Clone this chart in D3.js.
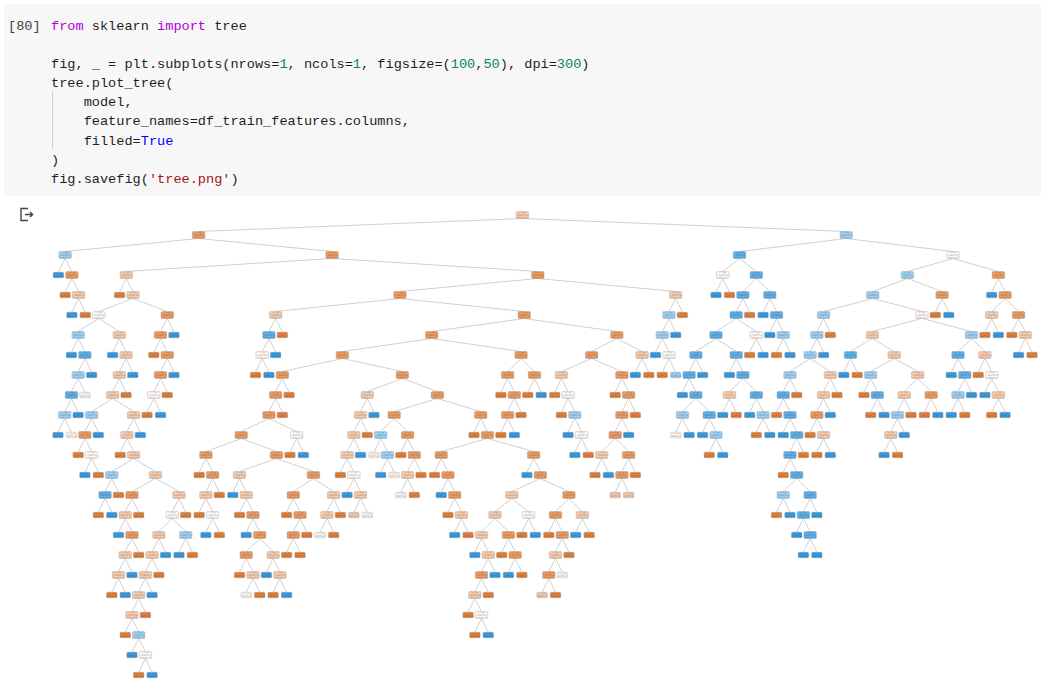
<!DOCTYPE html>
<html>
<head>
<meta charset="utf-8">
<script src="https://cdn.jsdelivr.net/npm/d3@7"></script>
<style>
  body { margin: 0; background: #fff; }
  svg text { white-space: pre; }
</style>
</head>
<body>
<div id="page"></div>
<script>
// code cell text, one entry per line: [line index, indent, [text, colour] pieces]
var codeLines = [
  [0, 0, [["from", "kw"], [" sklearn ", "tx"], ["import", "kw"], [" tree", "tx"]]],
  [2, 0, [["fig, _ = plt.subplots(nrows=", "tx"], ["1", "num"], [", ncols=", "tx"], ["1", "num"],
          [", figsize=(", "tx"], ["100", "num"], [",", "tx"], ["50", "num"], ["), dpi=", "tx"],
          ["300", "num"], [")", "tx"]]],
  [3, 0, [["tree.plot_tree(", "tx"]]],
  [4, 4, [["model,", "tx"]]],
  [5, 4, [["feature_names=df_train_features.columns,", "tx"]]],
  [6, 4, [["filled=", "tx"], ["True", "bool"]]],
  [7, 0, [[")", "tx"]]],
  [8, 0, [["fig.savefig(", "tx"], ["'tree.png'", "str"], [")", "tx"]]]
];
var codeColors = { kw: "#af00db", tx: "#1f1f1f", num: "#098658", bool: "#0000ff", str: "#a31515" };

// decision tree, node shade codes:
// O orange leaf, o orange, p pale orange, w near white, l light blue, b blue, B blue leaf
// written as code(left,right)
var t71 = "b(l(B,w),B)";
var t78a = "l(B,b(l(" + t71 + ",w),B))";
var t91 = "l(o(O,w(B,O)),B)";
var t112b = "l(b(O,B),O)";
var t132 = "o(p(B,o(p(p(O,B),B),O)),O)";
var t159 = "p(p(p(p(p(O,l(B,w(O,B))),O),B),O),B)";
var t179 = "p(w(" + t159 + ",l(B,O)),O)";
var t133c = "p(" + t112b + ",p(" + t132 + "," + t179 + "))";
var t112 = "p(" + t91 + ",p(p(O," + t133c + "),B))";
var t118a = "p(B,p(p(" + t112 + ",O),B))";
var t166 = "o(o(O,o(o(w(O,B),O),B)),B)";
var t126 = "p(O,p(w(" + t78a + "," + t118a + ")," + t166 + "))";

var t275 = "p(b(w(O,B),B),O)";
var t204 = "o(O,o(p(O,w(B,O)),O))";
var t239b = "p(B,p(O,o(B,o(o(O,p(w,O)),p(B,p(O,B))))))";
var t313 = "o(o(O,o(o(O,O),O)),p(p(w,O),O))";
var t239 = "o(" + t204 + ",o(" + t239b + "," + t313 + "))";
var t282 = "o(o(o(" + t239 + ",w(O,B)),O),O)";
var t367 = "p(p(p(p(O,w(B,p(p,w))),B),O),B)";
var t394 = "o(l(w,l(B,w)),o(O,o(p(w,O),O)))";
var t441 = "o(O,o(B,o(O,p(B,O))))";
var t481b = "p(B,p(o(p(O,w(O,B)),O),B))";
var t511 = "p(p(" + t481b + ",o(O,o(B,O))),w(O,B))";
var t568 = "o(o(O,o(p(o(p,O),w),O)),p(B,O))";
var t534 = "o(B,o(" + t511 + "," + t568 + "))";
var t437 = "o(" + t394 + ",o(O,o(" + t441 + "," + t534 + ")))";
var t342 = "o(" + t282 + ",o(" + t367 + "," + t437 + "))";
var t521 = "o(o(O,o(o(O,B),O)),o(O,B))";
var t562 = "p(O,w(O,l(B,w(B,O))))";
var t622 = "o(O,o(o(o(p(O,B),o(o(p,p),O)),B),O))";
var t617 = "o(o(" + t562 + "," + t622 + "),p(B,O))";
var t524 = "o(o(" + t342 + "," + t521 + ")," + t617 + ")";
var t675 = "p(l(l(B,w(O,l)),B),O)";
var t537 = "o(o(" + t275 + "," + t524 + ")," + t675 + ")";
var leftBranch = "o(l(B,o(O,p(B,O))),o(" + t126 + "," + t537 + "))";

var t696 = "b(b(B,b(l(w,B),b(B,l(O,B)))),B)";
var t736b = "b(B,b(p(B,O),b(B,l(O,B))))";
var t756 = "b(b(b(b(" + t696 + "," + t736b + "),w(O,B)),O),b(B,b(B,l(O,B))))";
var t790b = "b(O,b(l(O,B),b(b(B,b(B,B)),B)))";
var t790 = "l(b(O,b(B,b(" + t790b + ",O))),O)";
var t830 = "p(p(o(O,p(O,B)),B),O)";
var t918 = "p(p(l(p(B,O),B),O),o(O,B))";
var t872b = "p(b(B,O),p(l(O,b(O,B))," + t918 + "))";
var t971 = "l(b(B,b(l(B,O),B)),p(O,w(B,p(O,B))))";
var t872 = "l(l(l(l(" + t790 + "," + t830 + "),B),O),w(" + t872b + "," + t971 + "))";
var t999 = "o(B,o(p(O,B),o(O,p(B,O))))";
var rightBranch = "l(b(w(B,O)," + t756 + "),w(l(" + t872 + ",o(O,B))," + t999 + "))";

var treeSpec = "p(" + leftBranch + "," + rightBranch + ")";

// shade code -> class and fill strength
var shadeClass = { O: 0, o: 0, p: 0, w: 0, l: 1, b: 1, B: 1 };
var shadeAlpha = { O: 1, o: 0.8, p: 0.42, w: 0.07, l: 0.5, b: 0.82, B: 1 };
var classColors = ["#e58139", "#399de5"];

function parseTree(s) {
  var i = 0;
  function node() {
    var n = { c: s[i++] };
    if (s[i] === "(") {
      i++;
      var l = node(); i++; // skip comma
      var r = node(); i++; // skip ')'
      n.children = [l, r];
    }
    return n;
  }
  return node();
}

var width = 1044, height = 699;
var svg = d3.select("#page").append("svg")
  .attr("width", width)
  .attr("height", height);

// ---- code cell ----
svg.append("rect")
  .attr("x", 4).attr("y", 4)
  .attr("width", 1037).attr("height", 192)
  .attr("fill", "#f7f7f7");

var mono = "'Liberation Mono', 'DejaVu Sans Mono', monospace";
var fontSize = 13.6;
var charW = fontSize * 0.6;
var lineY = d3.scaleLinear().domain([0, 8]).range([29.5, 183]);

svg.append("text")
  .attr("x", 8).attr("y", lineY(0))
  .attr("font-family", mono).attr("font-size", fontSize)
  .attr("fill", "#424242")
  .text("[80]");

svg.append("line")
  .attr("x1", 52.5).attr("x2", 52.5)
  .attr("y1", 91).attr("y2", 149)
  .attr("stroke", "#d0d0d0").attr("stroke-width", 1);

codeLines.forEach(function(d) {
  var t = svg.append("text")
    .attr("x", 51 + d[1] * charW)
    .attr("y", lineY(d[0]))
    .attr("font-family", mono)
    .attr("font-size", fontSize);
  d[2].forEach(function(p) {
    t.append("tspan").attr("fill", codeColors[p[1]]).text(p[0]);
  });
});

// output icon
var icon = svg.append("g")
  .attr("fill", "none").attr("stroke", "#444").attr("stroke-width", 1.4);
icon.append("path").attr("d", "M28,208.5 H21 V220.5 H28");
icon.append("path").attr("d", "M25,214.5 H32.5 M30,212 L32.6,214.5 L30,217");

// ---- tree ----
var root = d3.hierarchy(parseTree(treeSpec));
d3.tree().nodeSize([1, 1]).separation(function() { return 1; })(root);

var nodes = root.descendants();
var xScale = d3.scaleLinear()
  .domain(d3.extent(nodes, function(d) { return d.x; }))
  .range([58, 1032]);
var yScale = d3.scaleLinear()
  .domain([0, 23])
  .range([215, 675]);

function boxH(d) { return d.children ? 7 : 5.6; }
function boxW(d) { return d.children ? 12.5 : 10.5; }
function fill(d) {
  var c = d3.rgb(classColors[shadeClass[d.data.c]]);
  var a = shadeAlpha[d.data.c];
  return d3.rgb(
    Math.round(a * c.r + (1 - a) * 255),
    Math.round(a * c.g + (1 - a) * 255),
    Math.round(a * c.b + (1 - a) * 255)
  );
}

svg.append("g")
  .selectAll("line")
  .data(root.links())
  .enter()
  .append("line")
    .attr("x1", function(d) { return xScale(d.source.x); })
    .attr("y1", function(d) { return yScale(d.source.depth) + boxH(d.source) / 2; })
    .attr("x2", function(d) { return xScale(d.target.x); })
    .attr("y2", function(d) { return yScale(d.target.depth) - boxH(d.target) / 2; })
    .attr("stroke", "#c4c4c4")
    .attr("stroke-width", 0.8);

var boxes = svg.append("g")
  .selectAll("g")
  .data(nodes)
  .enter()
  .append("g")
    .attr("transform", function(d) { return "translate(" + xScale(d.x) + "," + yScale(d.depth) + ")"; });

boxes.append("rect")
  .attr("x", function(d) { return -boxW(d) / 2; })
  .attr("y", function(d) { return -boxH(d) / 2; })
  .attr("width", boxW)
  .attr("height", boxH)
  .attr("rx", 1.2)
  .attr("fill", fill)
  .attr("stroke", "rgba(120,120,120,0.45)")
  .attr("stroke-width", 0.6);

// node labels (too small to read at this size)
boxes.each(function(d) {
  var lines = d.children
    ? ["x <= 0.5", "gini = 0.5", "samples = 10", "value = [5, 5]"]
    : ["gini = 0.0", "samples = 5", "value = [5, 0]"];
  var g = d3.select(this);
  lines.forEach(function(s, i) {
    g.append("text")
      .attr("x", 0)
      .attr("y", -boxH(d) / 2 + 1.9 + i * 1.45)
      .attr("text-anchor", "middle")
      .attr("font-family", "DejaVu Sans")
      .attr("font-size", 1.5)
      .attr("fill", "#333")
      .attr("fill-opacity", 0.8)
      .text(s);
  });
});
</script>
</body>
</html>
